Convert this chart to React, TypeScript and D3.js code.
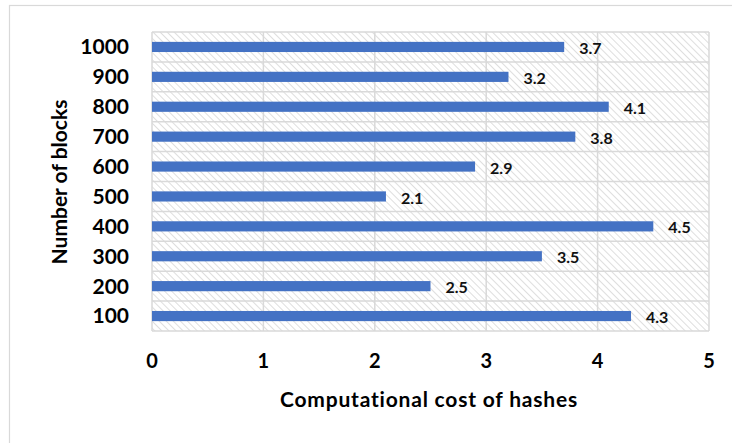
import { useEffect, useRef } from 'react';
import * as d3 from 'd3';

const blocks = ['100', '200', '300', '400', '500', '600', '700', '800', '900', '1000'];
const costs = [4.3, 2.5, 3.5, 4.5, 2.1, 2.9, 3.8, 4.1, 3.2, 3.7];
const xTicks = [0, 1, 2, 3, 4, 5];

const W = 732;
const H = 443;
const FONT = "Lato, 'Open Sans', sans-serif";

export default function App() {
  const ref = useRef<SVGSVGElement>(null);

  useEffect(() => {
    const svg = d3.select(ref.current);
    svg.selectAll('*').remove();

    const margin = { left: 152, right: W - 709, top: 32, bottom: H - 331 };

    const x = d3.scaleLinear().domain([0, 5]).range([margin.left, W - margin.right]);
    const y = d3.scaleBand<string>()
      .domain(blocks.slice().reverse())
      .range([margin.top, H - margin.bottom])
      .paddingInner(0.66)
      .paddingOuter(0.33);
    const band = d3.scaleBand<string>()
      .domain(blocks.slice().reverse())
      .range([margin.top, H - margin.bottom]);

    // background + outer frame
    svg.append('rect').attr('width', W).attr('height', H).attr('fill', 'white');
    svg.append('rect')
      .attr('x', 9.5).attr('y', 5.5)
      .attr('width', W + 10).attr('height', H + 10)
      .attr('fill', 'none').attr('stroke', '#d9d9d9').attr('stroke-width', 1.2);

    const defs = svg.append('defs');
    const pat = defs.append('pattern')
      .attr('id', 'hatch')
      .attr('patternUnits', 'userSpaceOnUse')
      .attr('width', 5).attr('height', 5)
      .attr('patternTransform', 'rotate(-45)');
    pat.append('line')
      .attr('x1', 0).attr('y1', 0).attr('x2', 0).attr('y2', 5)
      .attr('stroke', '#d0d0d0').attr('stroke-width', 1.4);

    const [x0, x1] = x.range();
    const [y0, y1] = band.range();

    svg.append('rect')
      .attr('x', x0).attr('y', y0)
      .attr('width', x1 - x0).attr('height', y1 - y0)
      .attr('fill', 'url(#hatch)');

    // gridlines
    const grid = svg.append('g').attr('stroke', '#d9d9d9').attr('stroke-width', 1.5);
    grid.selectAll('line.v')
      .data(xTicks)
      .join('line')
      .attr('x1', d => x(d)).attr('x2', d => x(d))
      .attr('y1', y0).attr('y2', y1);
    const edges = band.domain().map(d => band(d) as number).concat([y1]);
    grid.selectAll('line.h')
      .data(edges)
      .join('line')
      .attr('x1', x0).attr('x2', x1)
      .attr('y1', d => d).attr('y2', d => d);

    // bars
    svg.append('g')
      .selectAll('rect')
      .data(costs)
      .join('rect')
      .attr('x', x(0))
      .attr('y', (_, i) => y(blocks[i]) as number)
      .attr('width', d => x(d) - x(0))
      .attr('height', y.bandwidth())
      .attr('fill', '#4472C4');

    // value labels
    svg.append('g')
      .selectAll('text')
      .data(costs)
      .join('text')
      .attr('x', d => x(d) + 15)
      .attr('y', (_, i) => (y(blocks[i]) as number) + y.bandwidth() / 2 + 1.5)
      .attr('dy', '0.35em')
      .attr('font-family', FONT)
      .attr('font-weight', 700)
      .attr('font-size', 16)
      .attr('fill', '#111')
      .text(d => d.toFixed(1));

    // y tick labels
    svg.append('g')
      .selectAll('text')
      .data(blocks)
      .join('text')
      .attr('x', 129)
      .attr('y', d => (band(d) as number) + band.bandwidth() / 2)
      .attr('dy', '0.35em')
      .attr('text-anchor', 'end')
      .attr('font-family', FONT)
      .attr('font-weight', 700)
      .attr('font-size', 21)
      .attr('fill', '#000')
      .text(d => d);

    // x tick labels
    svg.append('g')
      .selectAll('text')
      .data(xTicks)
      .join('text')
      .attr('x', d => x(d))
      .attr('y', 361)
      .attr('dy', '0.35em')
      .attr('text-anchor', 'middle')
      .attr('font-family', FONT)
      .attr('font-weight', 700)
      .attr('font-size', 20)
      .attr('fill', '#000')
      .text(d => String(d));

    svg.append('text')
      .attr('x', 429).attr('y', 400)
      .attr('dy', '0.35em')
      .attr('text-anchor', 'middle')
      .attr('font-family', FONT)
      .attr('font-weight', 700)
      .attr('font-size', 21)
      .attr('letter-spacing', 0.8)
      .attr('fill', '#000')
      .text('Computational cost of hashes');

    svg.append('text')
      .attr('transform', 'translate(60,182) rotate(-90)')
      .attr('dy', '0.35em')
      .attr('text-anchor', 'middle')
      .attr('font-family', FONT)
      .attr('font-weight', 700)
      .attr('font-size', 21)
      .attr('fill', '#000')
      .text('Number of blocks');
  }, []);

  return (
    <svg
      ref={ref}
      width={W}
      height={H}
      style={{ position: 'absolute', left: 0, top: 0, display: 'block' }}
    />
  );
}
